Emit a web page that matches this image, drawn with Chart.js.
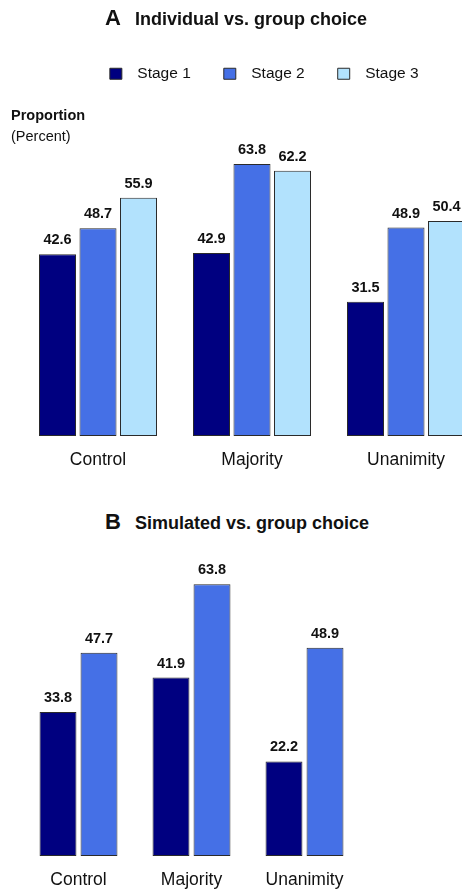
<!DOCTYPE html>
<html lang="en">
<head>
    <meta charset="UTF-8">
    <title>Individual vs. group choice</title>
    <script src="https://cdn.jsdelivr.net/npm/chart.js"></script>
    <style>
        html, body { margin: 0; padding: 0; background: #fff; overflow: hidden; }
        body { width: 462px; height: 891px; position: relative; font-family: "Liberation Sans", Arial, Helvetica, sans-serif; color: #111; }
        .title { position: absolute; left: 105px; white-space: nowrap; font-weight: bold; z-index: 2; }
        .title .letter { font-size: 22px; margin-right: 14px; }
        .title .text { font-size: 18px; }
        .ylab { position: absolute; left: 11px; font-size: 14.5px; z-index: 2; }
        #wrapA { position: absolute; left: 0; top: 0; }
        #wrapB { position: absolute; left: 0; top: 540px; }
    </style>
</head>
<body>
    <div class="title" style="top: 5px;"><span class="letter">A</span><span class="text">Individual vs. group choice</span></div>
    <div class="ylab" style="top: 107px; font-weight: bold;">Proportion</div>
    <div class="ylab" style="top: 128px;">(Percent)</div>
    <div class="title" style="top: 509px;"><span class="letter">B</span><span class="text">Simulated vs. group choice</span></div>

    <div id="wrapA"><canvas id="chartA" width="510" height="495"></canvas></div>
    <div id="wrapB"><canvas id="chartB" width="400" height="366"></canvas></div>

    <script>
        // data
        const categories = ['Control', 'Majority', 'Unanimity'];
        const stageNames = ['Stage 1', 'Stage 2', 'Stage 3'];
        const stage1A = [42.6, 42.9, 31.5];
        const stage2A = [48.7, 63.8, 48.9];
        const stage3A = [55.9, 62.2, 50.4];
        const stage1B = [33.8, 41.9, 22.2];
        const stage2B = [47.7, 63.8, 48.9];

        const colors = ['#000080', '#4570E6', '#B2E2FD'];
        const edge = '#2a2a2a';
        const fontFamily = '"Liberation Sans", Arial, Helvetica, sans-serif';

        // value labels above bars
        const valueLabels = {
            id: 'valueLabels',
            afterDatasetsDraw(chart) {
                const ctx = chart.ctx;
                ctx.save();
                ctx.font = 'bold 14.5px ' + fontFamily;
                ctx.fillStyle = '#111';
                ctx.textAlign = 'center';
                ctx.textBaseline = 'alphabetic';
                chart.data.datasets.forEach((ds, i) => {
                    chart.getDatasetMeta(i).data.forEach((bar, j) => {
                        ctx.fillText(ds.data[j].toFixed(1), bar.x, bar.y - 10);
                    });
                });
                ctx.restore();
            }
        };

        function makeDataset(label, data, idx) {
            return {
                label: label,
                data: data,
                backgroundColor: colors[idx],
                borderColor: edge,
                borderWidth: 1,
                borderSkipped: false
            };
        }

        const xAxis = {
            grid: { display: false, drawTicks: false },
            border: { display: false },
            ticks: {
                padding: 14,
                color: '#111',
                font: { family: fontFamily, size: 17.5 }
            }
        };

        new Chart(document.getElementById('chartA'), {
            type: 'bar',
            data: {
                labels: categories,
                datasets: [
                    makeDataset(stageNames[0], stage1A, 0),
                    makeDataset(stageNames[1], stage2A, 1),
                    makeDataset(stageNames[2], stage3A, 2)
                ]
            },
            options: {
                responsive: false,
                animation: false,
                categoryPercentage: 0.789,
                barPercentage: 0.914,
                layout: { padding: { left: 21, right: 2.5, top: 33, bottom: 10 } },
                scales: {
                    x: xAxis,
                    y: {
                        position: 'right',
                        min: 0,
                        max: 80.8,
                        grid: { display: false },
                        border: { display: false },
                        ticks: { display: false },
                        afterFit(scale) { scale.width = 24.5; }
                    }
                },
                plugins: {
                    tooltip: { enabled: false },
                    legend: {
                        position: 'top',
                        labels: {
                            boxWidth: 12,
                            boxHeight: 11,
                            padding: 33,
                            color: '#111',
                            font: { family: fontFamily, size: 15.5 },
                            generateLabels(chart) {
                                const items = Chart.defaults.plugins.legend.labels.generateLabels(chart);
                                items.forEach(it => { it.text = '\u2002' + it.text; it.lineWidth = 1; });
                                return items;
                            }
                        }
                    }
                }
            },
            plugins: [valueLabels]
        });

        new Chart(document.getElementById('chartB'), {
            type: 'bar',
            data: {
                labels: categories,
                datasets: [
                    makeDataset(stageNames[0], stage1B, 0),
                    makeDataset(stageNames[1], stage2B, 1)
                ]
            },
            options: {
                responsive: false,
                animation: false,
                categoryPercentage: 0.726,
                barPercentage: 0.9,
                layout: { padding: { left: 22, right: 39, top: 20, bottom: 1 } },
                scales: {
                    x: xAxis,
                    y: { display: false, min: 0, max: 69.5 }
                },
                plugins: {
                    tooltip: { enabled: false },
                    legend: { display: false }
                }
            },
            plugins: [valueLabels]
        });
    </script>
</body>
</html>
